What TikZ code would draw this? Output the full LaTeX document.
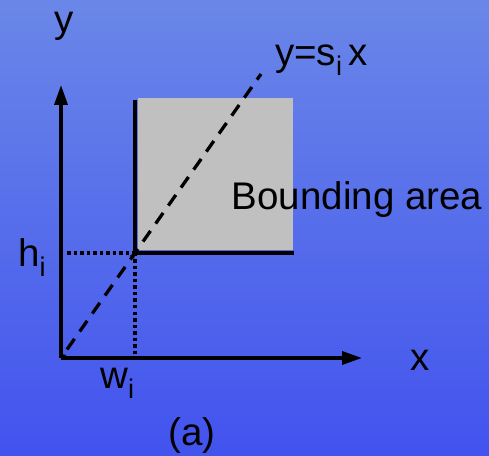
\documentclass[tikz,border=0pt]{standalone}
\usepackage{fontspec}
\setmainfont{Liberation Sans}
\usepackage{tikz}
\usetikzlibrary{arrows.meta,positioning,calc}
\definecolor{bgtop}{RGB}{106,135,232}
\definecolor{bgbottom}{RGB}{66,83,238}
\definecolor{areagray}{HTML}{C0C0C0}
\newcommand{\lowidx}[1]{\raisebox{-10pt}{\fontsize{27}{27}\selectfont #1}}
\tikzset{
  axisline/.style={
    -{Triangle[length=20pt,width=13pt]}, line width=3.5pt, black
  },
  boxedge/.style={
    line width=3.8pt, black
  },
  guideline/.style={
    line width=3.5pt, black, dash pattern=on 3.5pt off 3pt
  },
  slopeline/.style={
    line width=3.3pt, black, dash pattern=on 13pt off 9pt
  },
  labeltext/.style={
    font=\fontsize{38.5}{40}\selectfont, text=black, inner sep=0pt
  },
}
\begin{document}
\begin{tikzpicture}[x=1pt,y=1pt]
  % background
  \shade[top color=bgtop, bottom color=bgbottom] (0,0) rectangle (489,455);
  \useasboundingbox (0,0) rectangle (489,455);

  % points
  \coordinate (origin) at (61,97);
  \coordinate (ytip) at (61,370);
  \coordinate (xtip) at (362,97);
  \coordinate (corner) at (135,202);
  \coordinate (vtop) at (135,355);
  \coordinate (hend) at (294,202);
  \coordinate (slopeend) at (261,381);

  % bounding area
  \fill[areagray] (138,205) rectangle (293,357);

  % axes
  \draw[axisline] (origin) -- (ytip);
  \draw[axisline] (origin) -- (xtip);

  % guides to the axes
  \draw[guideline] ([xshift=6pt]origin |- corner) -- (corner);
  \draw[guideline] (corner) -- ([yshift=3pt]origin -| corner);

  % slope line
  \draw[slopeline] ($(origin)!0.03!(slopeend)$) -- (slopeend);
  \draw[line width=1.5pt, {Stealth[length=6pt,width=6pt]}-{Stealth[length=6pt,width=6pt]}, dash pattern=on 0pt off 100pt]
    (origin) -- (corner);

  % edges of the area
  \draw[boxedge] (vtop) -- (corner) -- (hend);

  % labels
  \node[labeltext, anchor=base] (ylabel) at (64,422) {y};
  \node[labeltext, anchor=base] (xlabel) at (420,85) {x};
  \node[labeltext, anchor=base west] (slopelabel) at (275,389) {y=s\lowidx{i}\,x};
  \node[labeltext, anchor=base] (arealabel) at (357,245) {Bounding area};
  \node[labeltext, anchor=base west] (hlabel) at (18,188) {h\lowidx{i}};
  \node[labeltext, anchor=base west] (wlabel) at (100,67) {w\lowidx{i}};
  \node[labeltext, anchor=base] (caption) at (192,10) {(a)};
\end{tikzpicture}
\end{document}
